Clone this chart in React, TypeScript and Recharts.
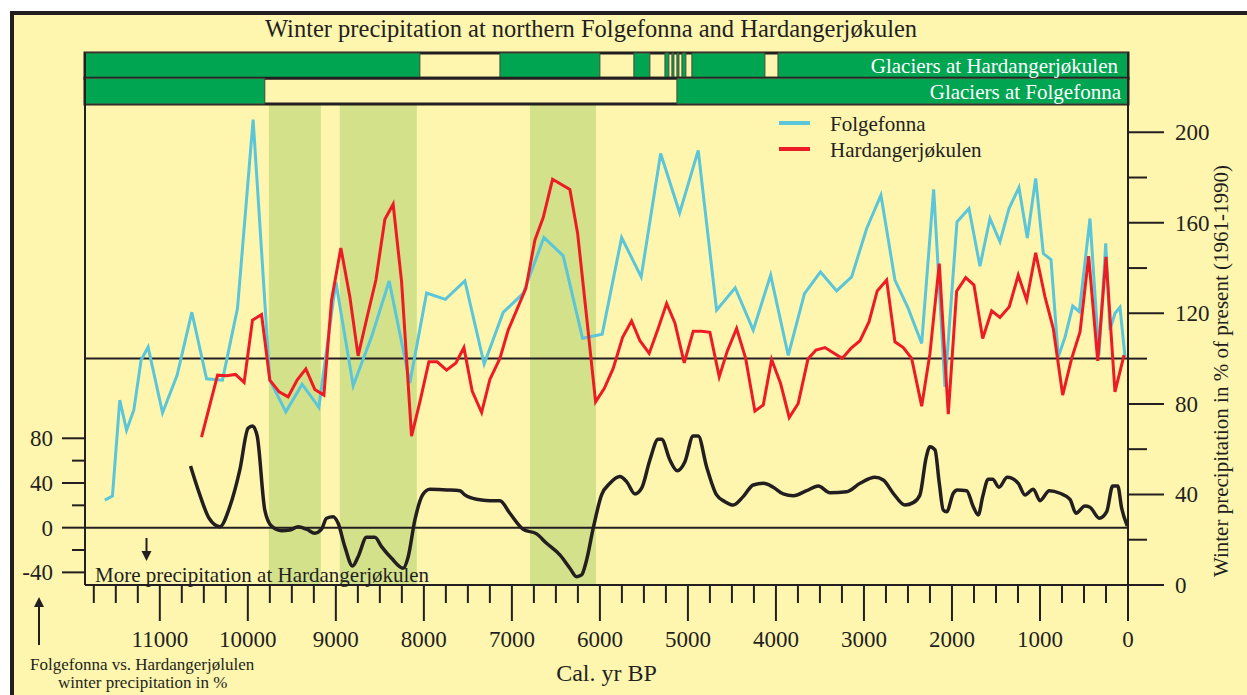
import React from "react";
import { ComposedChart, Line, XAxis, YAxis, ReferenceArea, ReferenceLine, Legend, Label } from "recharts";

const FONT = '"Liberation Serif", "Times New Roman", serif';
const INK = "#231F20";
const PAPER = "#FEF6AE";
const GREEN = "#00A551";
const BAND = "#D3E18B";
const BLUE = "#5BC5DA";
const RED = "#ED1C24";

// age axis, cal. yr BP (drawn reversed: old on the left)
const yearMax = 11850;
const xTicks = [
  11750, 11500, 11250, 11000, 10750, 10500, 10250, 10000, 9750, 9500, 9250, 9000,
  8750, 8500, 8250, 8000, 7750, 7500, 7250, 7000, 6750, 6500, 6250, 6000,
  5750, 5500, 5250, 5000, 4750, 4500, 4250, 4000, 3750, 3500, 3250, 3000,
  2750, 2500, 2250, 2000, 1750, 1500, 1250, 1000, 750, 500, 250, 0,
];
const rightTicks = [0, 20, 40, 60, 80, 100, 120, 140, 160, 180, 200];
const leftTicks = [-40, -20, 0, 20, 40, 60, 80];

// winter precipitation, % of 1961-1990
const folgYears = [
  11625, 11538, 11455, 11378, 11295, 11213, 11133, 10969, 10803, 10636, 10469, 10288, 10117, 9940,
  9750, 9568, 9383, 9193, 9000, 8803, 8594, 8394, 8159, 7969, 7756, 7534, 7315, 7099, 6872, 6636,
  6417, 6197, 5974, 5753, 5531, 5310, 5094, 4883, 4674, 4463, 4258, 4060, 3860, 3676, 3494, 3310,
  3140, 2969, 2807, 2648, 2497, 2344, 2208, 2080, 1943, 1807, 1682, 1568, 1455, 1352, 1239, 1144,
  1049, 962, 875, 792, 716, 628, 553, 432, 330, 253, 205, 148, 91, 34,
];
const folgValues = [
  37.5, 39.3, 81.7, 68.4, 77.3, 99.3, 105.1, 76.1, 92.7, 120.5, 91.1, 90.5, 122.3, 205.6,
  90.5, 76.5, 88.7, 78.5, 133.9, 88, 109.6, 134.3, 89.2, 129, 126.2, 134.3, 97.6, 120.4, 128.8, 153.5,
  145.4, 109, 110.8, 153.5, 136.1, 190.6, 164.4, 192, 121.4, 131.3, 112.6, 136.9, 101.4, 128.7, 138.3, 129.9,
  136.1, 157.5, 172.2, 134.7, 122.2, 106.7, 174.8, 87.5, 160.4, 166.3, 140.8, 161.9, 151.6, 166.3, 175.6, 153.3,
  179.6, 146.4, 143.8, 100.8, 109.4, 123.2, 120.7, 161.9, 101.5, 150.9, 112.6, 120, 122.7, 100.8,
];

const hardYears = [
  10526, 10344, 10242, 10140, 10042, 9947, 9844, 9750, 9644, 9542, 9440, 9341, 9239, 9136, 9049,
  8943, 8841, 8747, 8644, 8545, 8443, 8349, 8253, 8140, 8045, 7943, 7849, 7742, 7636, 7545, 7451,
  7344, 7250, 7136, 7042, 6841, 6739, 6644, 6538, 6341, 6253, 6151, 6049, 5951, 5849, 5742, 5640,
  5545, 5440, 5338, 5242, 5148, 5042, 4940, 4844, 4750, 4644, 4553, 4447, 4344, 4239, 4144, 4049,
  3947, 3849, 3747, 3636, 3545, 3443, 3349, 3247, 3148, 3045, 2943, 2849, 2742, 2648, 2553, 2458,
  2344, 2250, 2144, 2042, 1947, 1844, 1750, 1651, 1549, 1455, 1349, 1247, 1151, 1049, 943, 849,
  742, 640, 545, 447, 344, 250, 148, 45,
];
const hardValues = [
  65.3, 92.7, 92.4, 93, 89.5, 117, 119.5, 90.5, 85.3, 83.1, 90.5, 95.5, 86.4, 83.9, 125.8,
  148.9, 127.3, 101.2, 118.5, 134.7, 161.6, 168.2, 133.9, 65.8, 80.9, 98.6, 98.6, 94.9, 98.1, 104.9, 85.7,
  76.2, 90.8, 100.1, 112.6, 131, 152.3, 162.3, 179.2, 174.7, 155.3, 118.5, 80.9, 86.8, 95.7, 109.4, 116.6,
  107.9, 102.3, 113.3, 124.4, 115.8, 98.1, 112.1, 112.1, 111.6, 92, 103.3, 113.3, 100.1, 76.8, 79.5, 99.6,
  89, 74, 80.2, 99.8, 103.8, 104.9, 102.6, 100.1, 104.5, 107.9, 116.2, 129.9, 134.7, 107.4, 104.9, 100.1,
  79, 102.3, 142, 75.5, 129.8, 135.8, 132.5, 108.9, 121.1, 118.2, 122.9, 136.9, 125.8, 146.7, 127.3, 113.3,
  83.9, 100.1, 111.8, 145.3, 99, 144.9, 85.3, 101.5,
];

// Folgefonna minus Hardangerjøkulen, %
const diffYears = [
  10651, 10545, 10440, 10318, 10205, 10091, 9997, 9947, 9894, 9807, 9731, 9617, 9523, 9428, 9333,
  9239, 9163, 9106, 9031, 8974, 8898, 8810, 8747, 8651, 8557, 8481, 8367, 8235, 8178, 8102, 8015,
  7932, 7742, 7591, 7534, 7401, 7250, 7136, 7023, 6872, 6719, 6606, 6455, 6341, 6265, 6208, 6151,
  6076, 5981, 5886, 5773, 5697, 5602, 5526, 5432, 5338, 5299, 5205, 5122, 5034, 4940, 4883, 4788,
  4674, 4580, 4485, 4372, 4258, 4144, 4031, 3917, 3803, 3651, 3519, 3386, 3197, 3045, 2875, 2781,
  2667, 2534, 2440, 2364, 2295, 2250, 2193, 2144, 2099, 2060, 1985, 1940, 1833, 1758, 1701, 1651,
  1588, 1538, 1466, 1372, 1247, 1170, 1076, 1000, 894, 773, 659, 591, 489, 432, 326, 242, 174, 117, 72, 8,
];
const diffValues = [
  55.2, 29.3, 8.4, 0.9, 18.8, 51.7, 89, 91, 82.1, 15.8, 1.5, -2.7, -2.1, 0.9, -1.4,
  -5, -1.4, 8.4, 9.8, 3.9, -17, -34.3, -26, -8.6, -8.6, -17, -27.4, -36.3, -26, 6.9, 29.3,
  34.4, 33.8, 33.1, 29.3, 25.4, 24.2, 24.2, 12.9, -1.4, -5.6, -14, -24.4, -36.3, -43.9, -42.3, -28.9,
  -0.5, 29.3, 39.7, 45.7, 41.2, 30.2, 35.3, 60.6, 79.1, 79.1, 60.6, 51, 59.1, 82.1, 82.1, 54.6,
  29.3, 23.3, 20.3, 27.8, 38.2, 39.7, 36.2, 30.2, 28.6, 33.1, 37.3, 31.3, 32.2, 39.7, 45.1, 42.7,
  30.8, 20.3, 22.4, 29.3, 62.1, 72.5, 69.6, 39.7, 15.8, 14.3, 30.8, 33.8, 33.1, 18.8, 11.4, 27.8,
  43.3, 43.3, 36.2, 45.1, 39.7, 29.3, 34.4, 24.2, 33.1, 30.8, 25.4, 12.9, 19.4, 18.3, 8.4, 14.3, 37.3, 37.3, 17.4, 1.5,
];

// shaded periods (from, to)
const wetBands = [
  [9761, 9170],
  [8955, 8080],
  [6795, 6045],
];

// periods with glaciers present
const hardangerGlacier = [
  [yearMax, 8045], [7136, 6000], [5614, 5432], [5261, 5216], [5182, 5159],
  [5125, 5102], [5068, 5023], [4955, 4125], [3977, 0],
];
const folgefonnaGlacier = [
  [yearMax, 9807], [5125, 0],
];

// glacier strips sit above the curves, in right-axis units
const hardangerRow = [223.8, 235];
const folgefonnaRow = [212.5, 223.8];
const plotTop = 212.5;

const folgData = folgYears.map((year, i) => ({ year, value: folgValues[i] }));
const hardData = hardYears.map((year, i) => ({ year, value: hardValues[i] }));
const diffData = diffYears.map((year, i) => ({ year, value: diffValues[i] }));

const legendNames = ["Folgefonna", "Hardangerjøkulen"];

const XTick = ({ x, y, payload }: any) => {
  const major = payload.value % 1000 === 0;
  return (
    <g>
      <line x1={x} x2={x} y1={y} y2={y + (major ? 36 : 18)} stroke={INK} strokeWidth={2} />
      {major && (
        <text x={x} y={y + 62} textAnchor="middle" fontSize={23} fontFamily={FONT} fill={INK}>
          {payload.value}
        </text>
      )}
    </g>
  );
};

const LeftTick = ({ x, y, payload }: any) => {
  const major = payload.value % 40 === 0;
  return (
    <g>
      <line x1={x - (major ? 23 : 13)} x2={x} y1={y} y2={y} stroke={INK} strokeWidth={2} />
      {major && (
        <text x={x - 32} y={y + 8} textAnchor="end" fontSize={23} fontFamily={FONT} fill={INK}>
          {payload.value}
        </text>
      )}
    </g>
  );
};

const RightTick = ({ x, y, payload }: any) => {
  const major = payload.value % 40 === 0;
  return (
    <g>
      <line x1={x} x2={x + (major ? 36 : 19)} y1={y} y2={y} stroke={INK} strokeWidth={2} />
      {major && (
        <text x={x + 47} y={y + 8} textAnchor="start" fontSize={23} fontFamily={FONT} fill={INK}>
          {payload.value}
        </text>
      )}
    </g>
  );
};

const LegendBox = ({ payload }: any) => (
  <div style={{ fontFamily: FONT, fontSize: 21, color: INK }}>
    {(payload || [])
      .filter((p: any) => legendNames.includes(p.value))
      .map((p: any) => (
        <div key={p.value} style={{ display: "flex", alignItems: "center", height: 26 }}>
          <span style={{ display: "inline-block", width: 31, height: 4, background: p.color, marginRight: 20 }} />
          <span style={{ position: "relative", top: 1 }}>{p.value}</span>
        </div>
      ))}
  </div>
);

const RightAxisTitle = ({ viewBox }: any) => {
  const cx = viewBox.x + 100;
  const cy = viewBox.y + viewBox.height / 2 + 52;
  return (
    <text x={cx} y={cy} transform={`rotate(-90 ${cx} ${cy})`} textAnchor="middle" fontSize={21} fontFamily={FONT} fill={INK}>
      Winter precipitation in % of present (1961-1990)
    </text>
  );
};

export default function App() {
  return (
    <div style={{ position: "absolute", left: 0, top: 0, width: 1247, height: 695, background: "#fff", overflow: "hidden" }}>
      <div
        style={{
          position: "absolute", left: 10, top: 11, width: 1240, height: 690, background: PAPER,
          borderLeft: `4px solid ${INK}`, borderTop: `4px solid ${INK}`,
        }}
      />
      <div style={{ position: "absolute", left: 0, top: 0 }}>
        <ComposedChart width={1247} height={695} margin={{ top: 53, right: 0, bottom: 0, left: 0 }}>
          {wetBands.map(([a, b]) => (
            <ReferenceArea key={`band-${a}`} x1={a} x2={b} y1={0} y2={plotTop} yAxisId="right" fill={BAND} fillOpacity={1} stroke="none" />
          ))}

          <ReferenceArea x1={yearMax} x2={0} y1={hardangerRow[0]} y2={hardangerRow[1]} yAxisId="right" fill={PAPER} fillOpacity={1} stroke={INK} strokeWidth={3} />
          {hardangerGlacier.map(([a, b], i) => (
            <ReferenceArea
              key={`hg-${a}`} x1={a} x2={b} y1={hardangerRow[0]} y2={hardangerRow[1]} yAxisId="right"
              fill={GREEN} fillOpacity={1} stroke="#4a4a3a" strokeWidth={1}
              label={i === hardangerGlacier.length - 1 ? { value: "Glaciers at Hardangerjøkulen", position: "insideRight", offset: 10, fill: "#fff", fontSize: 21, fontFamily: FONT } : undefined}
            />
          ))}
          <ReferenceArea x1={yearMax} x2={0} y1={folgefonnaRow[0]} y2={folgefonnaRow[1]} yAxisId="right" fill={PAPER} fillOpacity={1} stroke={INK} strokeWidth={3} />
          {folgefonnaGlacier.map(([a, b], i) => (
            <ReferenceArea
              key={`fg-${a}`} x1={a} x2={b} y1={folgefonnaRow[0]} y2={folgefonnaRow[1]} yAxisId="right"
              fill={GREEN} fillOpacity={1} stroke="#4a4a3a" strokeWidth={1}
              label={i === folgefonnaGlacier.length - 1 ? { value: "Glaciers at Folgefonna", position: "insideRight", offset: 7, fill: "#fff", fontSize: 21, fontFamily: FONT } : undefined}
            />
          ))}

          <XAxis
            type="number" dataKey="year" domain={[0, yearMax]} reversed allowDataOverflow
            ticks={xTicks} interval={0} tickSize={0} tickMargin={0} tickLine={false}
            tick={<XTick />} height={110} axisLine={{ stroke: INK, strokeWidth: 2 }}
          >
            <Label value="Cal. yr BP" position="insideBottom" offset={14} fontSize={24} fontFamily={FONT} fill={INK} />
          </XAxis>
          <YAxis
            yAxisId="left" orientation="left" type="number" domain={[-51.3, 424.8]} allowDataOverflow
            ticks={leftTicks} interval={0} tickSize={0} tickMargin={0} tickLine={false}
            tick={<LeftTick />} width={85} axisLine={{ stroke: INK, strokeWidth: 2 }}
          />
          <YAxis
            yAxisId="right" orientation="right" type="number" domain={[0, 235]} allowDataOverflow
            ticks={rightTicks} interval={0} tickSize={0} tickMargin={0} tickLine={false}
            tick={<RightTick />} width={119} axisLine={{ stroke: INK, strokeWidth: 2 }}
          >
            <Label content={<RightAxisTitle />} />
          </YAxis>

          <ReferenceLine y={100} yAxisId="right" stroke={INK} strokeWidth={2} />
          <ReferenceLine y={0} yAxisId="left" stroke={INK} strokeWidth={2} />

          <Line data={folgData} dataKey="value" name="Folgefonna" yAxisId="right" type="linear" stroke={BLUE} strokeWidth={3} dot={false} activeDot={false} isAnimationActive={false} />
          <Line data={hardData} dataKey="value" name="Hardangerjøkulen" yAxisId="right" type="linear" stroke={RED} strokeWidth={3} dot={false} activeDot={false} isAnimationActive={false} />
          <Line data={diffData} dataKey="value" name="difference" yAxisId="left" type="monotone" stroke={INK} strokeWidth={3.5} dot={false} activeDot={false} legendType="none" isAnimationActive={false} />

          <Legend
            layout="vertical" align="center" verticalAlign="middle"
            content={<LegendBox />}
            wrapperStyle={{ left: 779, top: 110, width: 260, bottom: "auto", right: "auto" }}
          />
        </ComposedChart>
      </div>

      <svg width={1247} height={695} style={{ position: "absolute", left: 0, top: 0, pointerEvents: "none" }}>
        <text x={591} y={37} textAnchor="middle" fontSize={24.5} fontFamily={FONT} fill={INK}>
          Winter precipitation at northern Folgefonna and Hardangerjøkulen
        </text>
        <text x={95} y={582} fontSize={21} fontFamily={FONT} fill={INK}>More precipitation at Hardangerjøkulen</text>
        <line x1={146.5} x2={146.5} y1={538} y2={552} stroke={INK} strokeWidth={2} />
        <polygon points="141.5,551 151.5,551 146.5,561" fill={INK} />
        <line x1={39} x2={39} y1={645} y2={606} stroke={INK} strokeWidth={2} />
        <polygon points="34,607 44,607 39,597" fill={INK} />
        <text x={30} y={670} fontSize={17} fontFamily={FONT} fill={INK}>Folgefonna vs. Hardangerjølulen</text>
        <text x={58} y={688} fontSize={17} fontFamily={FONT} fill={INK}>winter precipitation in %</text>
      </svg>
    </div>
  );
}
